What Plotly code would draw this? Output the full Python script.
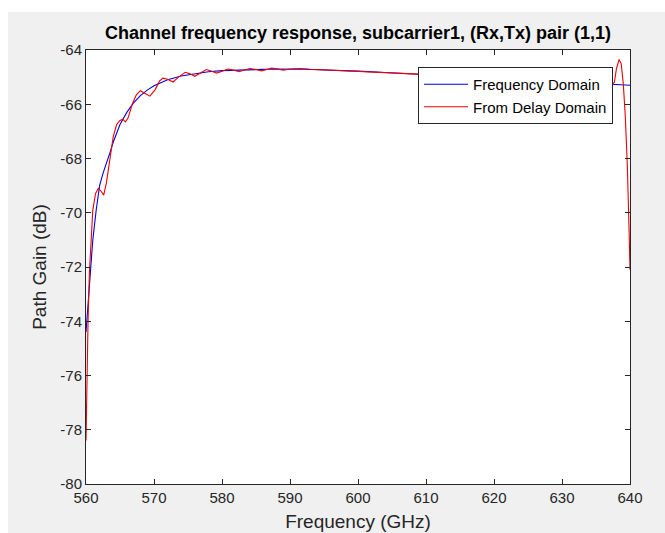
import plotly.graph_objects as go

# ---- data ----
freq_blue = [560, 560.5, 561, 561.5, 562, 562.5, 563, 563.5, 564, 565, 566, 567, 568, 569, 570,
             572, 574, 576, 578, 580, 584, 588, 592, 596, 600, 604, 608, 612, 616, 620, 624,
             628, 632, 636, 640]
gain_blue = [-74.4, -72.5, -71.0, -69.9, -69.0, -68.55, -68.2, -67.8, -67.4, -66.75, -66.3, -65.95,
             -65.68, -65.48, -65.32, -65.1, -64.96, -64.87, -64.8, -64.76, -64.72, -64.7, -64.71,
             -64.74, -64.78, -64.83, -64.88, -64.94, -65.0, -65.05, -65.1, -65.15, -65.2, -65.25,
             -65.3]

freq_red = [560.0, 560.15, 560.3, 560.5, 560.75, 561.0, 561.4, 561.8, 562.2, 562.6, 563.0, 563.5,
            564.0, 564.5, 565.0, 565.4, 565.8, 566.2, 566.8, 567.4, 568.0, 568.7, 569.4, 570.2,
            570.8, 571.3, 572.0, 572.8, 573.6, 574.6, 575.3, 576.0, 576.8, 577.7, 578.5, 579.2,
            580.0, 580.9, 581.8, 582.5, 583.3, 584.1, 585.0, 585.8, 586.6, 587.3, 588.2, 589.0,
            590.0, 591.5, 593.0, 596.0, 600.0, 604.0, 608.0, 612.0, 616.0, 620.0, 624.0, 628.0,
            631.0, 633.0, 634.5, 635.5, 636.5, 637.2, 637.7, 638.0, 638.4, 638.7, 639.0, 639.3,
            639.6, 639.85, 640.0]
gain_red = [-78.4, -76.0, -74.0, -72.2, -70.8, -69.9, -69.3, -69.1, -69.2, -69.35, -68.9, -68.0,
            -67.2, -66.75, -66.6, -66.55, -66.65, -66.5, -66.0, -65.65, -65.5, -65.6, -65.7, -65.45,
            -65.15, -65.04, -65.08, -65.18, -65.0, -64.82, -64.88, -64.97, -64.85, -64.72, -64.78,
            -64.85, -64.78, -64.7, -64.75, -64.8, -64.74, -64.68, -64.72, -64.77, -64.72, -64.67,
            -64.7, -64.74, -64.7, -64.68, -64.71, -64.74, -64.78, -64.83, -64.88, -64.93, -64.98,
            -65.04, -65.08, -65.13, -65.2, -65.15, -65.3, -65.2, -65.1, -65.3, -65.2, -64.7, -64.35,
            -64.5, -65.2, -66.4, -68.2, -70.5, -72.1]

x_ticks = [560, 570, 580, 590, 600, 610, 620, 630, 640]
y_ticks = [-80, -78, -76, -74, -72, -70, -68, -66, -64]
y_tick_text = ["-80", "-78", "-76", "-74", "-72", "-70", "-68", "-66", "-64"]

series_names = ["Frequency Domain", "From Delay Domain"]
title_text = "Channel frequency response, subcarrier1, (Rx,Tx) pair (1,1)"
x_label = "Frequency (GHz)"
y_label = "Path Gain (dB)"

# ---- figure ----
W, H = 665, 533
L, R, T, B = 86, 35, 50, 49
pw, ph = W - L - R, H - T - B
FONT = "Liberation Sans, Arial, Helvetica, sans-serif"
AX = "#262626"

fig = go.Figure()
fig.add_trace(go.Scatter(x=freq_blue, y=gain_blue, mode="lines", name=series_names[0],
                         line=dict(color="#0000e6", width=1.1)))
fig.add_trace(go.Scatter(x=freq_red, y=gain_red, mode="lines", name=series_names[1],
                         line=dict(color="#f00000", width=1.1)))

axis_common = dict(showgrid=False, zeroline=False, showline=True, linecolor=AX, linewidth=1,
                   mirror="ticks", ticks="inside", ticklen=5, tickcolor=AX, tickwidth=1,
                   automargin=False, tickfont=dict(family=FONT, size=15, color=AX))

fig.update_xaxes(range=[560, 640], tickvals=x_ticks, ticktext=[str(v) for v in x_ticks],
                 title=dict(text=x_label, font=dict(family=FONT, size=19, color=AX), standoff=9),
                 **axis_common)
fig.update_yaxes(range=[-80, -64], tickvals=y_ticks, ticktext=y_tick_text,
                 title=dict(text=y_label, font=dict(family=FONT, size=19, color=AX), standoff=8),
                 **axis_common)

# white strips at the top and left of the window
shapes = [
    dict(type="rect", xref="paper", yref="paper", x0=-L / pw - 0.01, x1=1 + R / pw + 0.01,
         y0=1 + (T - 12) / ph, y1=1 + T / ph + 0.01, fillcolor="white", line=dict(width=0), layer="above"),
    dict(type="rect", xref="paper", yref="paper", x0=-L / pw - 0.01, x1=-(L - 8) / pw,
         y0=-B / ph - 0.01, y1=1 + T / ph + 0.01, fillcolor="white", line=dict(width=0), layer="above"),
]

fig.update_layout(
    width=W, height=H,
    margin=dict(l=L, r=R, t=T, b=B, pad=0),
    paper_bgcolor="#f0f0f0", plot_bgcolor="white",
    font=dict(family=FONT, color=AX),
    title=dict(text="<b>" + title_text + "</b>", x=0.5, xref="paper", xanchor="center",
               y=1 - 33 / H, yref="container", yanchor="middle",
               font=dict(family=FONT, size=18, color="#000000")),
    legend=dict(x=(613 - L) / pw, xanchor="right", y=1 - (67 - T) / ph, yanchor="top",
                bgcolor="white", bordercolor=AX, borderwidth=1, itemwidth=44,
                font=dict(family=FONT, size=15, color="#000000"), tracegroupgap=0),
    shapes=shapes,
    showlegend=True,
)

fig.write_html("out.html")
